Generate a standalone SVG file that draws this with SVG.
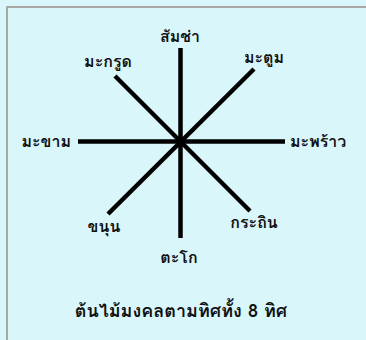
<svg xmlns="http://www.w3.org/2000/svg" width="366" height="340" viewBox="0 0 366 340">
<style>
.t{font-family:"Loma","Noto Sans Thai Looped","Noto Sans Thai",sans-serif;font-weight:bold;font-size:16px;fill:#111}
.c{font-size:18px}
.l{stroke:#000;stroke-width:4.5;fill:none}
</style>
<rect width="366" height="340" fill="#d9f7fa"/>
<path d="M7 340 V7 H366" stroke="#a8a8a8" stroke-width="2" fill="none"/>
<g id="connectors">
<line class="l" x1="180.5" y1="48" x2="180.5" y2="238"/>
<line class="l" x1="78" y1="141.5" x2="285" y2="141.5"/>
<line class="l" x1="115" y1="76" x2="250" y2="211"/>
<line class="l" x1="254" y1="69" x2="108" y2="214"/>
</g>
<g id="n1"><text class="t" x="180" y="42" text-anchor="middle">สัมช่า</text></g>
<g id="n2"><text class="t" x="108" y="67" text-anchor="middle">มะกรูด</text></g>
<g id="n3"><text class="t" x="264" y="63" text-anchor="middle">มะตูม</text></g>
<g id="n4"><text class="t" x="71" y="147" text-anchor="end">มะขาม</text></g>
<g id="n5"><text class="t" x="290" y="147" text-anchor="start">มะพร้าว</text></g>
<g id="n6"><text class="t" x="104" y="232" text-anchor="middle">ขนุน</text></g>
<g id="n7"><text class="t" x="254" y="228" text-anchor="middle">กระถิน</text></g>
<g id="n8"><text class="t" x="179" y="263" text-anchor="middle">ตะโก</text></g>
<g id="caption"><text class="t c" x="181" y="317" text-anchor="middle">ต้นไม้มงคลตามทิศทั้ง 8 ทิศ</text></g>
</svg>
